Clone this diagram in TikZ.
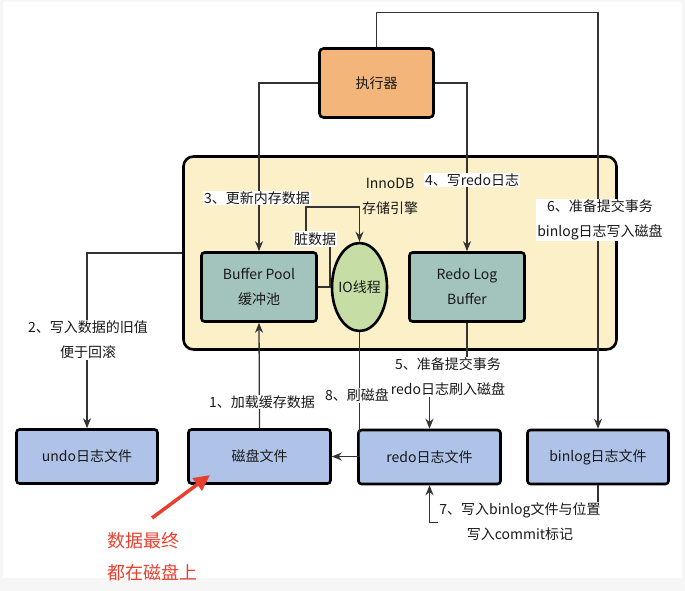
\documentclass[tikz,border=0pt]{standalone}
\usepackage{fontspec}
\setmainfont{Noto Sans CJK SC}
\usepackage{tikz}
\usetikzlibrary{calc,arrows.meta,shapes.geometric}

\definecolor{execfill}{HTML}{F3B57A}
\definecolor{enginefill}{HTML}{FCF0C9}
\definecolor{bufferfill}{HTML}{A3C4BC}
\definecolor{iofill}{HTML}{C6DEA6}
\definecolor{filefill}{HTML}{AFC3E8}
\definecolor{linegray}{HTML}{333333}
\definecolor{notered}{HTML}{E8402F}
\definecolor{framegray}{HTML}{F6F6F6}

\begin{document}
\begin{tikzpicture}[x=1pt,y=-1pt,
    every node/.style={font=\fontsize{14}{25}\selectfont,align=center,text=black!90},
    box/.style={draw=black,line width=2.6pt,rounded corners=3pt,inner sep=0pt},
    conn/.style={draw=linegray,line width=1.3pt,-{Stealth[length=10pt,width=8pt]}},
    tag/.style={fill=white,inner sep=1pt}]
  \useasboundingbox (0,0) rectangle (685,591);
  \fill[framegray] (0,0) rectangle (685,591);
  \fill[white] (3,2) rectangle (682,578);
  % storage engine area
  \node[box,fill=enginefill,rounded corners=10pt,minimum width=433,minimum height=193] (engine) at (400,253) {};
  \node (innodb) at (390,196) {\fontsize{14}{28}\selectfont InnoDB\\存储引擎};
  % boxes
  \node[box,fill=execfill,rounded corners=4pt,minimum width=114,minimum height=69] (exec) at (376.5,83) {执行器};
  \node[box,fill=bufferfill,minimum width=115,minimum height=69] (bp) at (259,287) {Buffer Pool\\缓冲池};
  \node[box,ellipse,fill=iofill,minimum width=55,minimum height=88] (io) at (359.5,287) {\makebox[0pt]{IO线程}};
  \node[box,fill=bufferfill,minimum width=115,minimum height=69] (rlb) at (467,287) {Redo Log\\Buffer};
  \node[box,fill=filefill,minimum width=141,minimum height=54] (undo) at (87,456.5) {undo日志文件};
  \node[box,fill=filefill,minimum width=142,minimum height=54] (disk) at (259.5,456.5) {磁盘文件};
  \node[box,fill=filefill,minimum width=142,minimum height=54] (redo) at (429.5,457) {redo日志文件};
  \node[box,fill=filefill,minimum width=141,minimum height=54] (binlog) at (598,457) {binlog日志文件};
  % connectors
  \draw[conn] (exec.west) -| (bp.north);
  \draw[conn] (exec.east) -| (rlb.north);
  \draw[conn] (exec.north) -- ++(0,-35) -| (binlog.north);
  \draw[conn] (engine.west) -| (undo.north);
  \draw[conn] (disk.north) -- (bp.south);
  \draw[conn] (io.south) |- (disk.east);
  \draw[conn] (rlb.south) -- ++(0,73) -| (redo.north);
  \draw[conn] (binlog.south) -- ++(0,37) -| (redo.south);
  \draw[conn] (bp.east) -- (330,287) -- (330,240) -- (306,240) -- (306,207) -| (io.north);
  % labels
  \node[tag] (l1) at (262,402) {1、加载缓存数据};
  \node[tag] (l2) at (88,340) {2、写入数据的旧值\\便于回滚};
  \node[tag] (l3) at (257,198) {3、更新内存数据};
  \node[tag] (dirty) at (315,239) {脏数据};
  \node[tag] (l4) at (472,180) {4、写redo日志};
  \node[tag] (l5) at (448,377) {5、准备提交事务\\redo日志刷入磁盘};
  \node[tag] (l6) at (600,220) {6、准备提交事务\\binlog日志写入磁盘};
  \node[tag] (l7) at (520,522) {7、写入binlog文件与位置\\写入commit标记};
  \node[tag] (l8) at (357,395) {8、刷磁盘};
  % note
  \coordinate (redtail) at (152,518);
  \coordinate (redhead) at (210,475);
  \draw[notered,line width=3.5pt,-{Triangle[length=16pt,width=15pt]}] (redtail) -- (redhead);
  \node[anchor=north west,align=left,text=notered,font=\fontsize{18}{32}\selectfont,inner sep=0pt] (note) at (107,532) {数据最终\\都在磁盘上};
\end{tikzpicture}
\end{document}
